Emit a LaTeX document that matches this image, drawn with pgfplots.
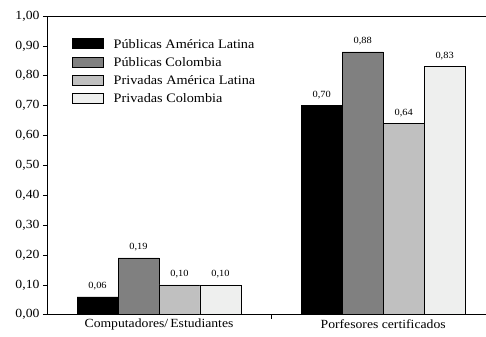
\documentclass[border=0pt]{standalone}
\usepackage{fontspec}
\setmainfont[FakeStretch=1.1]{Liberation Serif}
\usepackage{pgfplots}
\pgfplotsset{compat=1.18}
\definecolor{c1}{RGB}{0,0,0}
\definecolor{c2}{RGB}{128,128,128}
\definecolor{c3}{RGB}{192,192,192}
\definecolor{c4}{RGB}{238,239,238}
\begin{document}
\begin{tikzpicture}
\begin{axis}[
  width=439bp, height=299bp, scale only axis,
  xmin=-0.5, xmax=1.457, ymin=0, ymax=1,
  axis x line*=bottom, axis y line*=left,
  axis line style={line width=0.8pt},
  tick align=outside, major tick length=4bp,
  tick style={black, line width=0.6pt},
  ytick={0,0.1,0.2,0.3,0.4,0.5,0.6,0.7,0.8,0.9,1.0},
  xtick={0.5}, xticklabels={},
  extra x ticks={0,1},
  extra x tick labels={Computadores/\,Estudiantes, Porfesores certificados},
  extra x tick style={major tick length=0pt, tick label style={yshift=-1bp}},
  /pgf/number format/.cd, fixed, fixed zerofill, precision=2, use comma, assume math mode=true,
  /pgfplots/.cd,
  tick label style={font=\fontsize{12.5}{14}\selectfont},
  ybar, bar width=41bp,
  nodes near coords,
  nodes near coords style={font=\fontsize{9.5}{11}\selectfont, yshift=3bp},
  legend style={draw=none, fill=none, at={(25bp,277bp)}, anchor=north west,
    font=\fontsize{13}{14}\selectfont, row sep=7.2bp, inner sep=0pt,
    nodes={inner sep=1bp, text depth=0pt}},
  legend cell align=left,
  legend image code/.code={\fill[#1] (0bp,-5bp) rectangle (31bp,5bp);},
  clip=false,
]
\addplot[fill=c1, draw=black, line width=0.6pt, bar shift=-61.5bp] coordinates {(0,0.06) (1,0.70)};
\addplot[fill=c2, draw=black, line width=0.6pt, bar shift=-20.5bp] coordinates {(0,0.19) (1,0.88)};
\addplot[fill=c3, draw=black, line width=0.6pt, bar shift=20.5bp] coordinates {(0,0.10) (1,0.64)};
\addplot[fill=c4, draw=black, line width=0.6pt, bar shift=61.5bp] coordinates {(0,0.10) (1,0.83)};
\legend{\hspace{9bp}Públicas América Latina, \hspace{9bp}Públicas Colombia, \hspace{9bp}Privadas América Latina, \hspace{9bp}Privadas Colombia}
\draw[line width=0.8pt] (rel axis cs:0,1) -- (rel axis cs:1,1);
\coordinate (bl) at (rel axis cs:0,0);
\coordinate (tr) at (rel axis cs:1,1);
\end{axis}
\path ([shift={(-47bp,-22bp)}]bl) rectangle ([shift={(0bp,16bp)}]tr);
\end{tikzpicture}
\end{document}
